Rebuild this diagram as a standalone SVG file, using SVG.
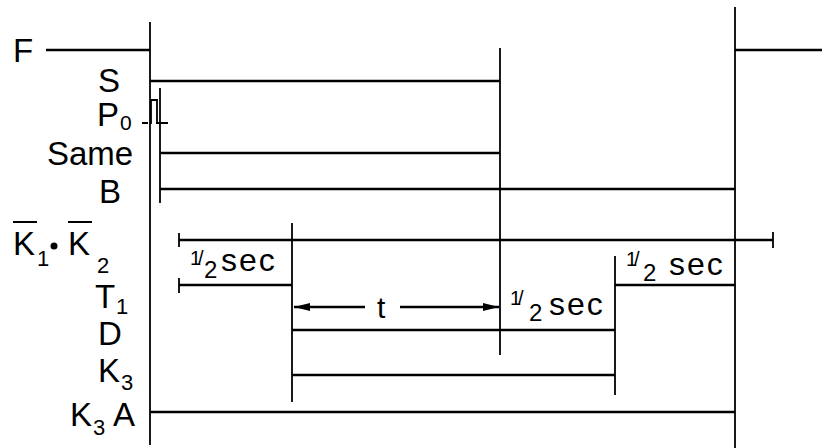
<svg xmlns="http://www.w3.org/2000/svg" width="822" height="448" viewBox="0 0 822 448">
<style>
.h{stroke:#000;stroke-width:2.6;fill:none}
.v{stroke:#000;stroke-width:1.8;fill:none}
.lb{font-family:"Liberation Sans",Arial,sans-serif;font-size:33px;fill:#000}
.sb{font-family:"Liberation Sans",Arial,sans-serif;font-size:22px;fill:#000}
.fr{font-family:"Liberation Sans",Arial,sans-serif;font-size:20px;fill:#000;letter-spacing:-3px}
.f2{font-family:"Liberation Sans",Arial,sans-serif;font-size:24px;fill:#000}
.sec{font-family:"Liberation Sans",Arial,sans-serif;font-size:32px;fill:#000;letter-spacing:2px}
</style>
<defs>
<marker id="ah" viewBox="0 0 16 8" refX="16" refY="4" markerWidth="16" markerHeight="8" markerUnits="userSpaceOnUse" orient="auto-start-reverse">
<path d="M0,0 L16,4 L0,8 Z" fill="#000"/>
</marker>
</defs>
<rect width="822" height="448" fill="#fff"/>
<g id="connectors">
<path class="v" d="M150,22 V445"/>
<path class="v" d="M160,88 V203"/>
<path class="v" d="M500,48 V355"/>
<path class="v" d="M735,7 V448"/>
<path class="v" d="M292,223 V402"/>
<path class="v" d="M615,256 V395"/>
<path class="v" d="M179,233 V247 M773,232 V248 M179,278 V293"/>
<path class="h" d="M294,307 H365" marker-start="url(#ah)"/>
<path class="h" d="M400,307 H499" marker-end="url(#ah)"/>
</g>
<g id="F">
<text class="lb" x="13" y="62">F</text>
<path class="h" d="M46,50 H150 M735,50 H822"/>
</g>
<g id="S">
<text class="lb" x="98" y="92">S</text>
<path class="h" d="M150,81 H500"/>
</g>
<g id="P0">
<text class="lb" x="97" y="126">P</text>
<text class="sb" x="120" y="130" style="font-size:21px">0</text>
<path class="v" d="M151,124 V100 H157 V124"/>
<path class="v" d="M142,123 H148 M156,123 H168" style="stroke-width:2.2"/>
</g>
<g id="Same">
<text class="lb" x="47" y="165">Same</text>
<path class="h" d="M160,153 H500"/>
</g>
<g id="B">
<text class="lb" x="99" y="203">B</text>
<path class="h" d="M160,189 H735"/>
</g>
<g id="K1K2">
<text class="lb" x="13" y="255">K</text>
<text class="sb" x="37" y="266">1</text>
<circle cx="54" cy="246" r="3.5" fill="#000"/>
<text class="lb" x="68" y="255">K</text>
<text class="sb" x="97" y="273">2</text>
<path class="v" d="M13,222 H37 M68,222 H92" style="stroke-width:2.2"/>
<path class="h" d="M179,240 H773"/>
</g>
<g id="T1">
<text class="lb" x="95" y="308">T</text>
<text class="sb" x="116" y="314">1</text>
<path class="h" d="M179,285 H292 M615,285 H735"/>
<text class="fr" x="190" y="265">1/</text>
<text class="f2" x="204" y="278">2</text>
<text class="sec" x="221" y="271">sec</text>
<text class="fr" x="626" y="266">1/</text>
<text class="f2" x="643" y="281">2</text>
<text class="sec" x="669" y="275">sec</text>
</g>
<g id="D">
<text class="lb" x="98" y="345">D</text>
<path class="h" d="M292,330 H615"/>
<text x="377" y="318" font-family="Liberation Sans, Arial, sans-serif" font-size="30">t</text>
<text class="fr" x="510" y="305">1/</text>
<text class="f2" x="529" y="321">2</text>
<text class="sec" x="549" y="315">sec</text>
</g>
<g id="K3">
<text class="lb" x="98" y="382">K</text>
<text class="sb" x="121" y="390">3</text>
<path class="h" d="M292,375 H615"/>
</g>
<g id="K3A">
<text class="lb" x="70" y="426">K</text>
<text class="sb" x="93" y="435">3</text>
<text class="lb" x="113" y="426">A</text>
<path class="h" d="M150,412 H735"/>
</g>
</svg>
